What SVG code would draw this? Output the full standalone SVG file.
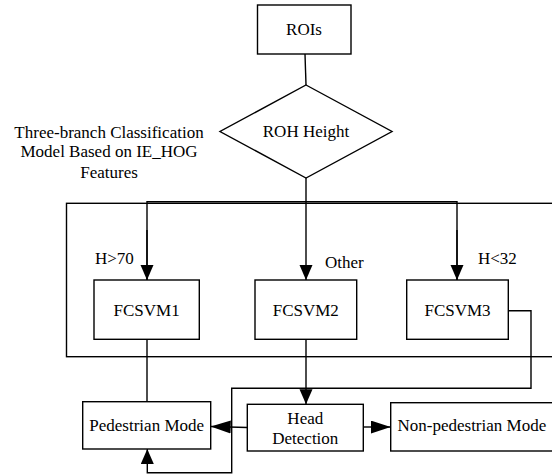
<svg xmlns="http://www.w3.org/2000/svg" width="552" height="475" viewBox="0 0 552 475">
<defs>
  <marker id="ah" markerUnits="userSpaceOnUse" markerWidth="16" markerHeight="14" refX="15" refY="6.5" orient="auto">
    <path d="M0,0 L15,6.5 L0,13 Z" fill="#000"/>
  </marker>
  <marker id="ahl" markerUnits="userSpaceOnUse" markerWidth="21" markerHeight="14" refX="20" refY="6.5" orient="auto">
    <path d="M0,0 L20,6.5 L0,13 Z" fill="#000"/>
  </marker>
</defs>
<rect width="552" height="475" fill="#fff"/>

<g id="container">
  <rect x="66.5" y="203.3" width="500" height="153.4" fill="none" stroke="#000" stroke-width="1.4"/>
</g>

<g id="nodes" fill="#fff" stroke="#000" stroke-width="1.4">
<g id="roi">
  <rect x="257.5" y="5" width="93.5" height="49"/>
</g>
<g id="decision">
  <polygon points="306,85 392,131.5 306,178 220,131.5"/>
</g>
<g id="fcsvm1">
  <rect x="94" y="280" width="105.3" height="59.3"/>
</g>
<g id="fcsvm2">
  <rect x="255" y="280" width="101.7" height="59.3"/>
</g>
<g id="fcsvm3">
  <rect x="406.7" y="280" width="101.6" height="59.3"/>
</g>
<g id="pedestrian">
  <rect x="82.7" y="401.7" width="128" height="47.3"/>
</g>
<g id="head">
  <rect x="247.3" y="404.3" width="116" height="46.7"/>
</g>
<g id="nonped">
  <rect x="390.7" y="402.7" width="175" height="48.3"/>
</g>
</g>

<g id="texts" font-family="Liberation Serif" font-size="17" fill="#000" text-anchor="middle">
  <text x="304" y="35">ROIs</text>
  <text x="306" y="137">ROH Height</text>
  <text x="109" y="138">Three-branch Classification</text>
  <text x="109" y="157">Model Based on IE_HOG</text>
  <text x="109" y="178">Features</text>
  <text x="146.6" y="316">FCSVM1</text>
  <text x="305.8" y="316">FCSVM2</text>
  <text x="457.5" y="316">FCSVM3</text>
  <text x="146.7" y="431">Pedestrian Mode</text>
  <text x="305.3" y="423.5">Head</text>
  <text x="305.3" y="443.5">Detection</text>
  <text x="397.5" y="431" text-anchor="start">Non-pedestrian Mode</text>
  <text x="95" y="264" text-anchor="start">H&gt;70</text>
  <text x="325" y="268" text-anchor="start">Other</text>
  <text x="478" y="264" text-anchor="start">H&lt;32</text>
</g>

<g id="connectors" fill="none" stroke="#000" stroke-width="1.4">
  <line x1="305" y1="54" x2="306" y2="85"/>
  <line x1="306" y1="178" x2="306" y2="280" marker-end="url(#ah)"/>
  <polyline points="147,280 147,201.7 457,201.7 457,280"/>
  <line x1="147" y1="230" x2="147" y2="280" marker-end="url(#ah)"/>
  <line x1="457" y1="230" x2="457" y2="280" marker-end="url(#ah)"/>
  <line x1="147" y1="339.3" x2="147" y2="401.7"/>
  <line x1="306" y1="339.3" x2="306" y2="404.3" marker-end="url(#ah)"/>
  <polyline points="508.3,310.7 531,310.7 531,388.3 231.7,388.3 231.7,472.7 147.3,472.7 147.3,449" marker-end="url(#ah)"/>
  <line x1="247.3" y1="427.5" x2="210.7" y2="426.5" marker-end="url(#ahl)"/>
  <line x1="363.3" y1="427" x2="390.7" y2="427" marker-end="url(#ahl)"/>
</g>
</svg>
